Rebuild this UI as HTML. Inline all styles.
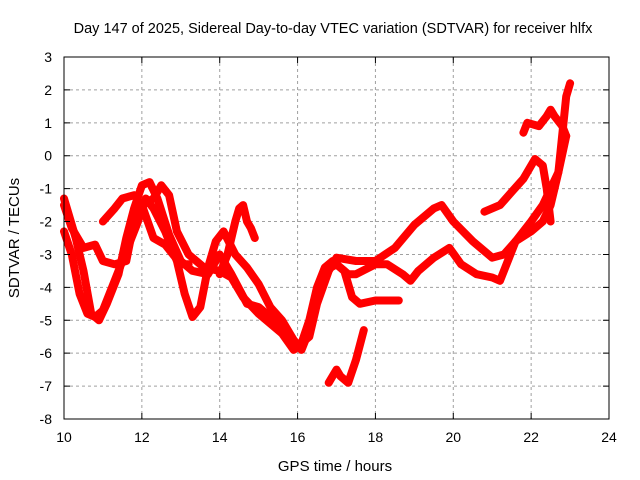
<!DOCTYPE html>
<html><head><meta charset="utf-8"><style>
html,body{margin:0;padding:0;background:#fff;}
svg{display:block;font-family:"Liberation Sans",sans-serif;}
</style></head><body>
<svg id="chart" width="640" height="480" viewBox="0 0 640 480">
<rect width="640" height="480" fill="#fff"/>
<text x="333" y="33" font-size="14.5" text-anchor="middle">Day 147 of 2025, Sidereal Day-to-day VTEC variation (SDTVAR) for receiver hlfx</text>
<g id="grid"></g>
<g id="series"></g>
<rect x="64" y="57" width="545" height="362" fill="none" stroke="#000" stroke-width="1"/>
<g id="ticks"></g>
<text transform="translate(19,238) rotate(-90)" font-size="15" text-anchor="middle">SDTVAR / TECUs</text>
<text x="335" y="471" font-size="15" text-anchor="middle">GPS time / hours</text>
</svg>
<script>
const xTicks=[10,12,14,16,18,20,22,24];
const yTicks=[3,2,1,0,-1,-2,-3,-4,-5,-6,-7,-8];
const s1=[[10.0,-1.3],[10.3,-2.5],[10.5,-3.5],[10.7,-4.8],[10.9,-5.0],[11.1,-4.5],[11.4,-3.6],[11.6,-2.5],[11.8,-1.6],[12.0,-0.9],[12.2,-0.8],[12.4,-1.3],[12.7,-2.4],[13.0,-3.2],[13.3,-3.5],[13.7,-3.6],[14.0,-3.0],[14.3,-3.6],[14.7,-4.5],[15.0,-4.6],[15.4,-5.0],[15.7,-5.4],[16.0,-5.8],[16.3,-5.5],[16.5,-4.5],[16.8,-3.5],[17.0,-3.1],[17.5,-3.2],[18.0,-3.2],[18.5,-2.8],[19.0,-2.1],[19.5,-1.6],[19.7,-1.5],[20.0,-2.0],[20.5,-2.6],[21.0,-3.1],[21.3,-3.0],[21.6,-2.6],[22.0,-2.0],[22.3,-1.5],[22.5,-1.0],[22.7,-0.5],[22.9,0.6]];
const s2=[[10.0,-2.3],[10.2,-3.0],[10.4,-4.2],[10.6,-4.8],[10.8,-4.9],[11.0,-4.7],[11.3,-3.8],[11.6,-2.9],[11.9,-2.0],[12.1,-1.3],[12.3,-1.6],[12.6,-2.3],[12.9,-3.2],[13.1,-4.2],[13.3,-4.9],[13.5,-4.6],[13.7,-3.4],[13.9,-2.6],[14.1,-2.3],[14.4,-3.0],[14.7,-3.4],[15.0,-3.9],[15.3,-4.6],[15.6,-5.0],[15.9,-5.6],[16.1,-5.9],[16.3,-5.3],[16.5,-4.2],[16.7,-3.5],[17.0,-3.3],[17.3,-3.6],[17.5,-3.6],[18.0,-3.3],[18.3,-3.3],[18.7,-3.6],[18.9,-3.8],[19.1,-3.5],[19.5,-3.1],[19.9,-2.8],[20.2,-3.3],[20.6,-3.6],[21.0,-3.7],[21.2,-3.8],[21.4,-3.2],[21.6,-2.6],[22.0,-2.3],[22.3,-2.0],[22.5,-1.5],[22.7,-0.5],[22.9,1.8],[23.0,2.2]];
const s3=[[10.0,-1.5],[10.2,-2.2],[10.5,-2.8],[10.8,-2.7],[11.0,-3.2],[11.3,-3.3],[11.6,-3.2],[11.8,-2.0],[12.0,-1.5],[12.3,-1.3],[12.5,-0.9],[12.7,-1.2],[12.9,-2.3],[13.2,-3.0],[13.6,-3.4],[14.0,-3.5],[14.3,-3.7],[14.6,-4.3],[15.0,-4.8],[15.3,-5.1],[15.6,-5.4],[15.9,-5.9],[16.1,-5.7],[16.3,-5.0],[16.5,-4.0],[16.7,-3.4],[16.9,-3.2],[17.2,-3.5],[17.4,-4.3],[17.6,-4.5],[18.0,-4.4],[18.3,-4.4],[18.6,-4.4]];
const s4=[[11.0,-2.0],[11.3,-1.6],[11.5,-1.3],[11.8,-1.2],[12.0,-1.5],[12.3,-2.5],[12.6,-2.7],[13.0,-3.3],[13.2,-3.3]];
const s5=[[14.0,-3.6],[14.2,-3.0],[14.4,-2.0],[14.5,-1.6],[14.6,-1.5],[14.7,-2.0],[14.8,-2.2],[14.9,-2.5]];
const s6=[[16.8,-6.9],[17.0,-6.5],[17.1,-6.7],[17.3,-6.9],[17.5,-6.2],[17.7,-5.3]];
const s7=[[20.8,-1.7],[21.2,-1.5],[21.5,-1.1],[21.8,-0.7],[22.1,-0.1],[22.3,-0.3],[22.4,-1.0],[22.5,-2.0]];
const s8=[[21.8,0.7],[21.9,1.0],[22.2,0.9],[22.4,1.2],[22.5,1.4],[22.6,1.2],[22.8,0.9],[22.9,0.6]];
const allSeries=[s1,s2,s3,s4,s5,s6,s7,s8];
const NS='http://www.w3.org/2000/svg';
function xs(h){return 64+(h-10)*545/14;}
function ys(v){return 57+(3-v)*362/11;}
const grid=document.getElementById('grid'),ticks=document.getElementById('ticks'),ser=document.getElementById('series');
xTicks.forEach(t=>{
 const x=xs(t);
 if(t>10&&t<24){const l=document.createElementNS(NS,'line');
 
 
 l.setAttribute('x1',x);l.setAttribute('x2',x);l.setAttribute('y1',57);l.setAttribute('y2',419);
 l.setAttribute('stroke','#a0a0a0');l.setAttribute('stroke-dasharray','3,3');grid.appendChild(l);}
 const tk=document.createElementNS(NS,'path');
 
 
 tk.setAttribute('d',`M${x},419v-6M${x},57v6`);tk.setAttribute('stroke','#000');ticks.appendChild(tk);
 const tx=document.createElementNS(NS,'text');
 
 
 tx.setAttribute('x',x);tx.setAttribute('y',442);tx.setAttribute('font-size','14');tx.setAttribute('text-anchor','middle');tx.textContent=t;ticks.appendChild(tx);
});
yTicks.forEach(t=>{
 const y=ys(t);
 if(t<3&&t>-8){const l=document.createElementNS(NS,'line');
 
 
 l.setAttribute('x1',64);l.setAttribute('x2',609);l.setAttribute('y1',y);l.setAttribute('y2',y);
 l.setAttribute('stroke','#a0a0a0');l.setAttribute('stroke-dasharray','3,3');grid.appendChild(l);}
 const tk=document.createElementNS(NS,'path');
 
 
 tk.setAttribute('d',`M64,${y}h6M609,${y}h-6`);tk.setAttribute('stroke','#000');ticks.appendChild(tk);
 const tx=document.createElementNS(NS,'text');
 
 
 tx.setAttribute('x',52);tx.setAttribute('y',y+5);tx.setAttribute('font-size','14');tx.setAttribute('text-anchor','end');tx.textContent=t;ticks.appendChild(tx);
});
allSeries.forEach((s,i)=>{
 const p=document.createElementNS(NS,'polyline');
 
 
 p.setAttribute('points',s.map(d=>xs(d[0]).toFixed(1)+','+ys(d[1]).toFixed(1)).join(' '));
 p.setAttribute('fill','none');p.setAttribute('stroke','#ff0000');p.setAttribute('stroke-width','8');
 p.setAttribute('stroke-linejoin','round');p.setAttribute('stroke-linecap','round');
 ser.appendChild(p);
});
</script>
</body></html>
